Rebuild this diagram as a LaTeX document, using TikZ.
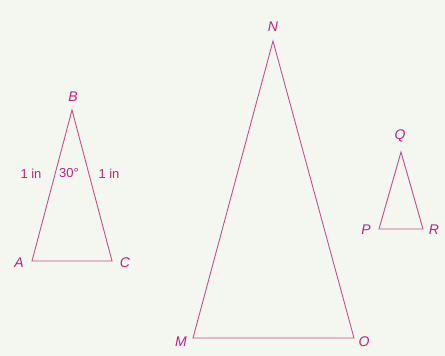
\documentclass[tikz,border=0pt]{standalone}
\usepackage{fontspec}
\setmainfont{Liberation Sans}
\definecolor{bgpale}{HTML}{F3F7EF}
\definecolor{edgepink}{HTML}{C84C90}
\definecolor{labelpink}{HTML}{BA2384}
\tikzset{
  vlabel/.style={font=\fontsize{14}{14}\selectfont\itshape,text=labelpink,inner sep=0pt},
  slabel/.style={font=\fontsize{13}{13}\selectfont,text=labelpink,inner sep=0pt},
  tri/.style={draw=edgepink,line width=0.9pt,line join=miter}
}
\begin{document}
\begin{tikzpicture}[x=1pt,y=-1pt]
\fill[bgpale] (0,0) rectangle (445,356);
\useasboundingbox (0,0) rectangle (445,356);
% triangle ABC
\coordinate (A) at (32,261); \coordinate (B) at (72,110); \coordinate (C) at (112,261);
\draw[tri] (A) -- (B) -- (C) -- cycle;
\node[vlabel] (lA) at (19,263) {A};
\node[vlabel] (lB) at (73,97) {B};
\node[vlabel] (lC) at (125,263) {C};
\node[slabel] (lAB) at (31,174) {1 in};
\node[slabel] (lBC) at (109,174) {1 in};
\node[slabel] (ang) at (69,173) {30\textdegree};
% triangle MNO
\coordinate (M) at (193,338); \coordinate (N) at (273,41); \coordinate (O) at (354,338);
\draw[tri] (M) -- (N) -- (O) -- cycle;
\node[vlabel] (lM) at (181,342) {M};
\node[vlabel] (lN) at (273,27) {N};
\node[vlabel] (lO) at (364,342) {O};
% triangle PQR
\coordinate (P) at (379,229); \coordinate (Q) at (401,152); \coordinate (R) at (423,229);
\draw[tri] (P) -- (Q) -- (R) -- cycle;
\node[vlabel] (lP) at (366,230) {P};
\node[vlabel] (lQ) at (400,136) {Q};
\node[vlabel] (lR) at (434,230) {R};
\end{tikzpicture}
\end{document}
